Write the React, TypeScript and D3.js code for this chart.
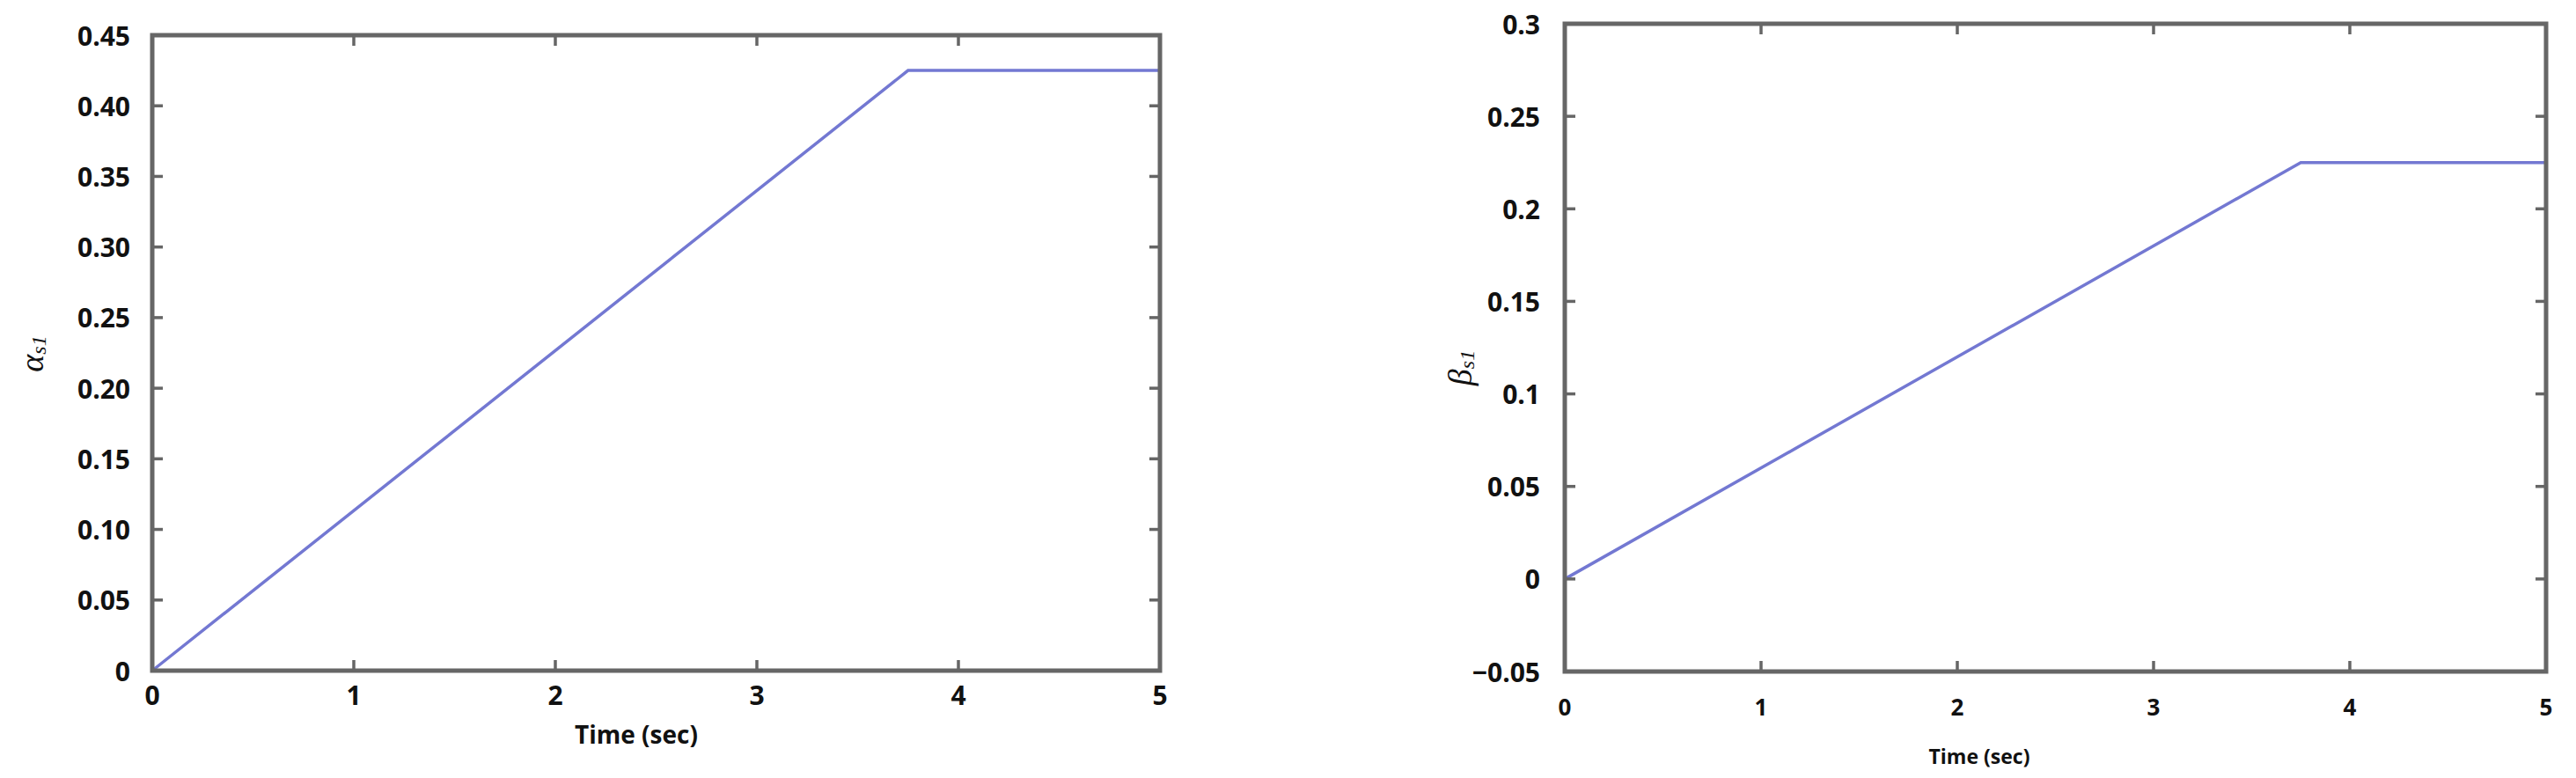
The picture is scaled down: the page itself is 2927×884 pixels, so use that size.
import React from "react";
import * as d3 from "d3";

const timeTicks = [0, 1, 2, 3, 4, 5];
const alphaTicks = [0, 0.05, 0.1, 0.15, 0.2, 0.25, 0.3, 0.35, 0.4, 0.45];
const alphaTickLabels = ["0", "0.05", "0.10", "0.15", "0.20", "0.25", "0.30", "0.35", "0.40", "0.45"];
const betaTicks = [-0.05, 0, 0.05, 0.1, 0.15, 0.2, 0.25, 0.3];
const betaTickLabels = ["\u22120.05", "0", "0.05", "0.1", "0.15", "0.2", "0.25", "0.3"];

const alphaTime = [0, 3.75, 5];
const alphaValues = [0, 0.425, 0.425];
const betaTime = [0, 3.75, 5];
const betaValues = [0, 0.225, 0.225];

const AXIS = "#666666";
const LINE = "#7378d2";
const FONT = "'Open Sans', 'Liberation Sans', sans-serif";

type PanelProps = {
  x0: number; x1: number; yTop: number; yBottom: number;
  yDomain: [number, number];
  yTicks: number[]; yLabels: string[];
  times: number[]; values: number[];
  yLabelGap: number; xLabelY: number; xFont: number;
  titleX: number; titleY: number; titleFont: number;
  symbol: string; symX: number; symY: number;
};

function Panel(p: PanelProps) {
  const x = d3.scaleLinear().domain([0, 5]).range([p.x0, p.x1]);
  const y = d3.scaleLinear().domain(p.yDomain).range([p.yBottom, p.yTop]);
  const line = d3.line<number>().x((_, i) => x(p.times[i])).y((v) => y(v));
  const tl = 12;
  const innerX = timeTicks.filter((t) => t > 0 && t < 5);
  const innerY = p.yTicks.filter((v) => v > p.yDomain[0] && v < p.yDomain[1]);
  return (
    <g>
      <path d={line(p.values) || ""} fill="none" stroke={LINE} strokeWidth={3.5} />
      <rect x={p.x0} y={p.yTop} width={p.x1 - p.x0} height={p.yBottom - p.yTop}
        fill="none" stroke={AXIS} strokeWidth={5} />
      {innerX.map((t) => (
        <g key={"xt" + t}>
          <line x1={x(t)} x2={x(t)} y1={p.yBottom} y2={p.yBottom - tl} stroke={AXIS} strokeWidth={3.5} />
          <line x1={x(t)} x2={x(t)} y1={p.yTop} y2={p.yTop + tl} stroke={AXIS} strokeWidth={3.5} />
        </g>
      ))}
      {innerY.map((v) => (
        <g key={"yt" + v}>
          <line x1={p.x0} x2={p.x0 + tl} y1={y(v)} y2={y(v)} stroke={AXIS} strokeWidth={3.5} />
          <line x1={p.x1} x2={p.x1 - tl} y1={y(v)} y2={y(v)} stroke={AXIS} strokeWidth={3.5} />
        </g>
      ))}
      {p.yTicks.map((v, i) => (
        <text key={"yl" + v} x={p.x0 - p.yLabelGap} y={y(v)} textAnchor="end"
          dominantBaseline="central" fontFamily={FONT} fontWeight={700} fontSize={30} fill="#111">
          {p.yLabels[i]}
        </text>
      ))}
      {timeTicks.map((t) => (
        <text key={"xl" + t} x={x(t)} y={p.xLabelY} textAnchor="middle"
          dominantBaseline="central" fontFamily={FONT} fontWeight={700} fontSize={p.xFont} fill="#111">
          {t}
        </text>
      ))}
      <text x={p.titleX} y={p.titleY} textAnchor="middle" dominantBaseline="central"
        fontFamily={FONT} fontWeight={700} fontSize={p.titleFont} fill="#111">
        Time (sec)
      </text>
      <text transform={`translate(${p.symX},${p.symY}) rotate(-90)`} textAnchor="middle"
        dominantBaseline="central" fontFamily="'Liberation Serif', serif" fontStyle="italic" fontSize={38} fill="#111">
        {p.symbol}
        <tspan fontSize={24} dy={8}>s1</tspan>
      </text>
    </g>
  );
}

export default function App() {
  return (
    <svg width={2927} height={884} style={{ position: "absolute", left: 0, top: 0, background: "#fff" }}>
      <rect width={2927} height={884} fill="#fff" />
      <Panel x0={173} x1={1318} yTop={40} yBottom={762} yDomain={[0, 0.45]}
        yTicks={alphaTicks} yLabels={alphaTickLabels} times={alphaTime} values={alphaValues}
        yLabelGap={25} xLabelY={789} xFont={30} titleX={723} titleY={834} titleFont={28}
        symbol={"\u03b1"} symX={36} symY={402} />
      <Panel x0={1778} x1={2893} yTop={27} yBottom={763} yDomain={[-0.05, 0.3]}
        yTicks={betaTicks} yLabels={betaTickLabels} times={betaTime} values={betaValues}
        yLabelGap={28} xLabelY={803} xFont={26} titleX={2249} titleY={859} titleFont={23}
        symbol={"\u03b2"} symX={1659} symY={418} />
    </svg>
  );
}
